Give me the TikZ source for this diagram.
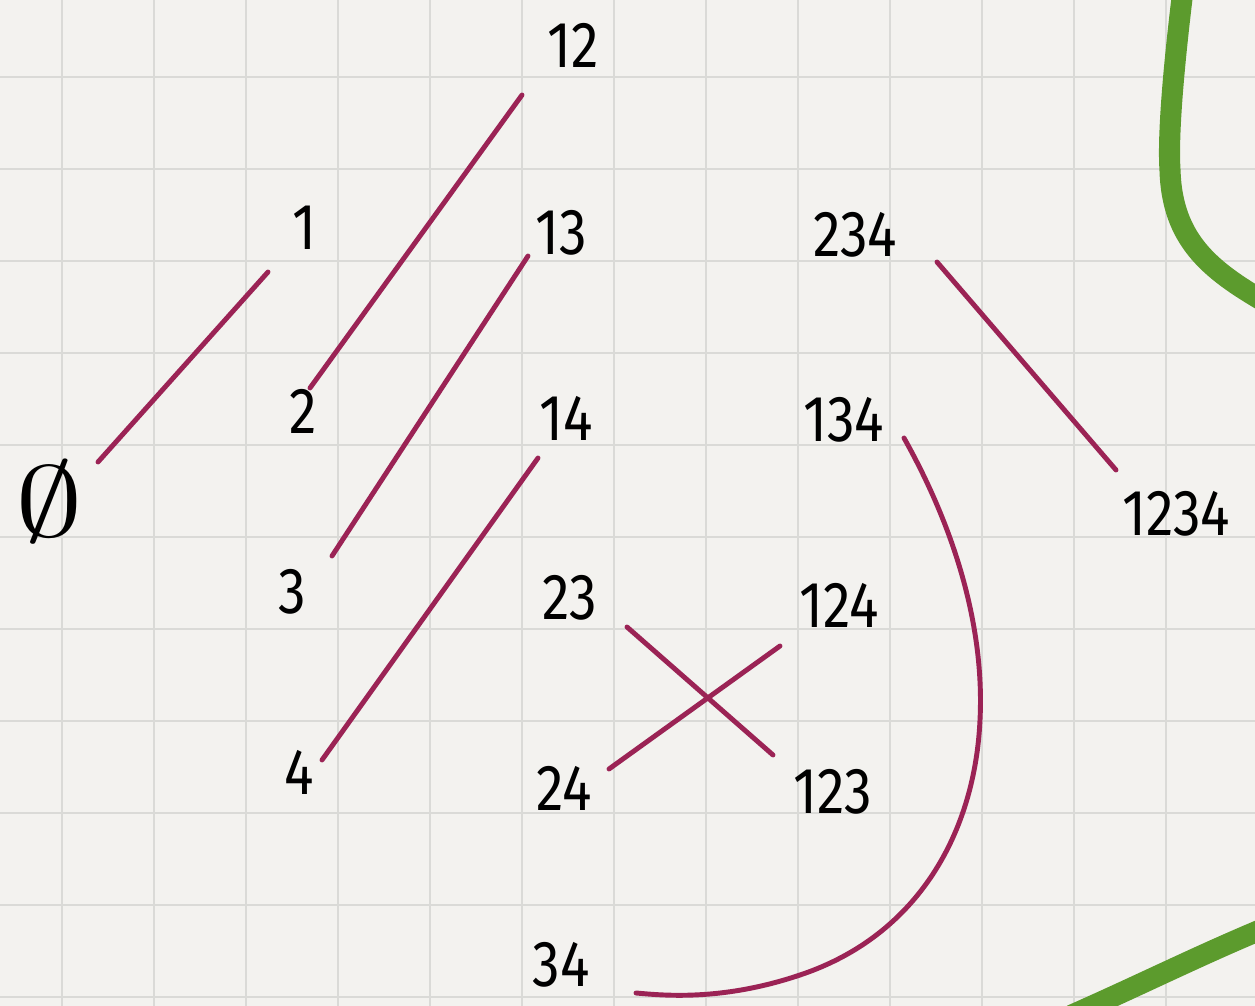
\documentclass[tikz,border=0pt]{standalone}
\usepackage{graphicx}
\usepackage{fontspec}
\setmainfont{Fira Sans}
\usetikzlibrary{calc}
\definecolor{paper}{RGB}{243,242,239}
\definecolor{gridc}{RGB}{218,218,215}
\definecolor{edgec}{RGB}{155,35,85}
\definecolor{leafg}{RGB}{92,155,45}
\newcommand{\hw}[1]{\scalebox{0.85}[1]{#1}}
\begin{document}
\begin{tikzpicture}[x=0.02cm,y=-0.02cm,
  lbl/.style={inner sep=0pt, font=\fontsize{37}{40}\selectfont, text=black},
  edge/.style={draw=edgec, line width=2.8pt, line cap=round},
  stroke/.style={draw=leafg, line width=12pt, line cap=round},
  gridline/.style={draw=gridc, line width=1.4pt}]
\fill[paper] (0,0) rectangle (1255,1006);
\useasboundingbox (0,0) rectangle (1255,1006);
\foreach \i in {0,...,13} \draw[gridline] ({62+92*\i},0) -- ({62+92*\i},1006);
\foreach \j in {0,...,10} \draw[gridline] (0,{77+92*\j}) -- (1255,{77+92*\j});
% green strokes
\draw[stroke] (1183,-10) .. controls (1172,80) and (1168,140) .. (1170,170)
  .. controls (1172,240) and (1210,270) .. (1265,302);
\draw[stroke] (1072,1015) .. controls (1140,985) and (1200,955) .. (1265,928);
% labels
\node[lbl] (n0) at (49,502) {\scalebox{3.1}[2.3]{$\emptyset$}};
\node[lbl] (n1) at (304,228) {\hw{1}};
\node[lbl] (n2) at (303,411) {\hw{2}};
\node[lbl] (n3) at (292,592) {\hw{3}};
\node[lbl] (n4) at (299,772) {\hw{4}};
\node[lbl] (n12) at (573,45) {\hw{12}};
\node[lbl] (n13) at (561,233) {\hw{13}};
\node[lbl] (n14) at (566,418) {\hw{14}};
\node[lbl] (n23) at (570,598) {\hw{23}};
\node[lbl] (n24) at (564,788) {\hw{24}};
\node[lbl] (n34) at (561,965) {\hw{34}};
\node[lbl] (n234) at (855,235) {\hw{234}};
\node[lbl] (n134) at (844,420) {\hw{134}};
\node[lbl] (n124) at (839,605) {\hw{124}};
\node[lbl] (n123) at (833,792) {\hw{123}};
\node[lbl] (n1234) at (1176,514) {\hw{1234}};
% connectors
\draw[edge] ($(n0)+(49,-40)$) -- ($(n1)+(-36,44)$);
\draw[edge] ($(n2)+(7,-23)$) -- ($(n12)+(-51,50)$);
\draw[edge] ($(n3)+(40,-36)$) -- ($(n13)+(-33,23)$);
\draw[edge] ($(n4)+(23,-12)$) -- ($(n14)+(-28,40)$);
\draw[edge] ($(n23)+(57,29)$) -- ($(n123)+(-60,-37)$);
\draw[edge] ($(n24)+(45,-19)$) -- ($(n124)+(-59,41)$);
\draw[edge] ($(n234)+(82,27)$) -- ($(n1234)+(-60,-44)$);
\draw[edge] ($(n134)+(60,18)$) .. controls (950,520) and (985,620) .. (980,720)
  .. controls (975,830) and (920,935) .. (800,975)
  .. controls (720,1002) and (660,995) .. ($(n34)+(75,28)$);
\end{tikzpicture}
\end{document}
